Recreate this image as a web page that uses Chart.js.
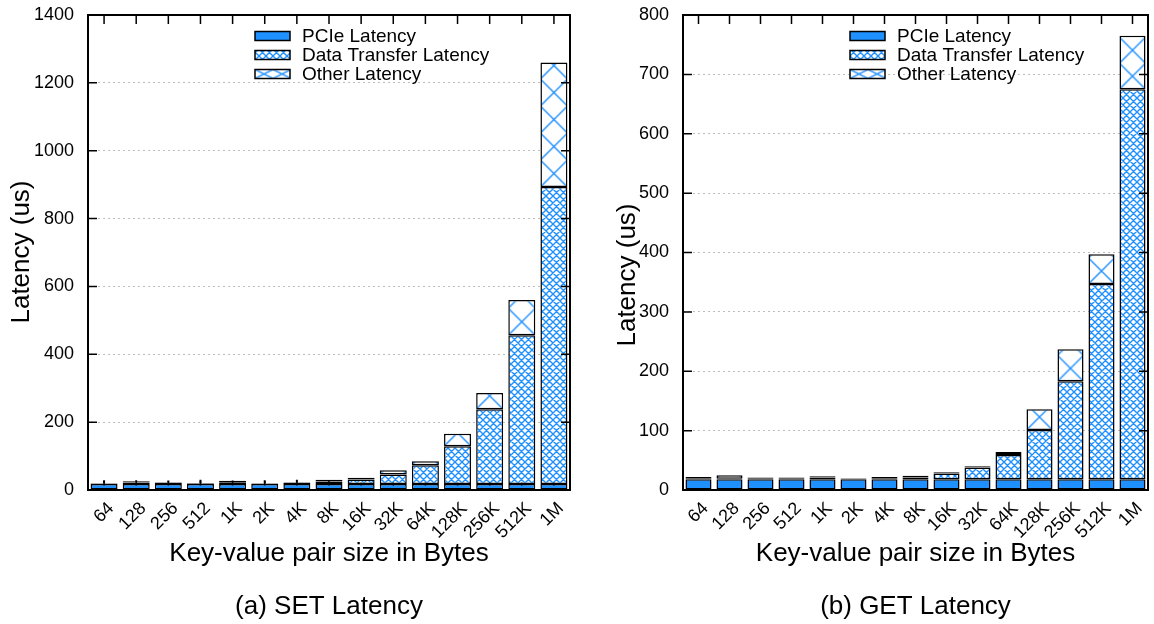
<!DOCTYPE html>
<html>
<head>
<meta charset="utf-8">
<script src="https://cdn.jsdelivr.net/npm/chart.js@4/dist/chart.umd.min.js"></script>
<style>
  html, body { margin: 0; padding: 0; background: #fff; }
  #wrap { position: relative; width: 1154px; height: 624px; overflow: hidden; }
  .pane { position: absolute; top: 0; width: 577px; height: 624px; }
  #paneSet { left: 0; }
  #paneGet { left: 577px; }
</style>
</head>
<body>
<div id="wrap">
  <div class="pane" id="paneSet"><canvas id="setChart" width="577" height="624"></canvas></div>
  <div class="pane" id="paneGet"><canvas id="getChart" width="577" height="624"></canvas></div>
</div>
<script>
// Key-value pair sizes (x categories)
const sizes = ['64', '128', '256', '512', '1K', '2K', '4K', '8K', '16K', '32K', '64K', '128K', '256K', '512K', '1M'];

// SET latency breakdown (us)
const setPcie  = [18, 18, 18, 18, 18, 18, 18, 18, 18, 18, 18, 18, 18, 18, 18];
const setData  = [1, 4, 4, 1, 5, 1, 4, 7, 13, 28, 55, 111, 220, 438, 875];
const setOther = [1, 4, 1, 2, 4, 1, 1, 5, 5, 12, 12, 37, 48, 104, 367];
const setErr   = [9, 3, 5, 9, 2, 9, 7, 0, 0, 0, 0, 0, 0, 0, 0];

// GET latency breakdown (us)
const getPcie  = [18, 18, 18, 18, 18, 18, 18, 18, 18, 18, 18, 18, 18, 18, 18];
const getData  = [2, 1, 2, 2, 3, 1, 2, 3, 10, 20, 41, 83, 165, 329, 657];
const getOther = [2, 6, 1, 1, 2, 1, 2, 3, 2, 2, 5, 35, 54, 50, 90];

// Axis ticks
const setTicks = [0, 200, 400, 600, 800, 1000, 1200, 1400];
const getTicks = [0, 100, 200, 300, 400, 500, 600, 700, 800];

const seriesNames = ['PCIe Latency', 'Data Transfer Latency', 'Other Latency'];
const FONT = '"Liberation Sans", Arial, Helvetica, sans-serif';
const BLUE = '#1E90FF';
const BAR_FRACTION = 0.84;

// Fine diagonal cross-hatch used for the data-transfer segments
function hatchPattern(ctx) {
  const s = 7, n = 2, T = s * n;
  const c = document.createElement('canvas');
  c.width = T; c.height = T;
  const g = c.getContext('2d');
  g.fillStyle = '#fff';
  g.fillRect(0, 0, T, T);
  g.strokeStyle = BLUE;
  g.lineWidth = 1.4;
  g.beginPath();
  for (let i = -n; i <= n; i++) {
    g.moveTo(i * s, 0); g.lineTo(i * s + T, T);
    g.moveTo(i * s, T); g.lineTo(i * s + T, 0);
  }
  g.stroke();
  return ctx.createPattern(c, 'repeat');
}

// Large "X" cells used for the other-latency segments
function crossPattern(ctx, w, h, ox, oy) {
  const W = Number.isFinite(w) ? Math.max(4, Math.round(w)) : 26;
  const H = Number.isFinite(h) ? Math.max(4, Math.round(h)) : 26;
  const c = document.createElement('canvas');
  c.width = W; c.height = H;
  const g = c.getContext('2d');
  g.fillStyle = '#fff';
  g.fillRect(0, 0, W, H);
  g.strokeStyle = BLUE;
  g.lineWidth = 1.4;
  g.beginPath();
  g.moveTo(0, 0); g.lineTo(W, H);
  g.moveTo(0, H); g.lineTo(W, 0);
  g.stroke();
  const p = ctx.createPattern(c, 'repeat');
  if (p && p.setTransform && Number.isFinite(ox) && Number.isFinite(oy)) {
    p.setTransform(new DOMMatrix([1, 0, 0, 1, ox, oy]));
  }
  return p;
}

function barWidth(chart) {
  const xs = chart.scales.x;
  return xs.width / sizes.length * BAR_FRACTION;
}

// Frame, inward ticks, legend, titles and caption
function decorPlugin(cfg) {
  return {
    id: 'decor',
    beforeDatasetsDraw(chart) {
      const { ctx, chartArea: a } = chart;
      const xs = chart.scales.x;
      ctx.save();
      ctx.strokeStyle = '#000';
      ctx.lineWidth = 1.5;
      ctx.beginPath();
      sizes.forEach((_, i) => {
        const x = xs.getPixelForValue(i);
        ctx.moveTo(x, a.bottom); ctx.lineTo(x, a.bottom - 9);
      });
      ctx.stroke();
      ctx.restore();
    },
    afterDatasetsDraw(chart) {
      const { ctx, chartArea: a } = chart;
      const xs = chart.scales.x, ys = chart.scales.y;
      ctx.save();
      ctx.strokeStyle = '#000';
      // error whiskers
      if (cfg.err) {
        ctx.lineWidth = 2;
        ctx.beginPath();
        cfg.err.forEach((e, i) => {
          if (!e) return;
          const top = cfg.pcie[i] + cfg.data[i] + cfg.other[i];
          const x = xs.getPixelForValue(i);
          ctx.moveTo(x, ys.getPixelForValue(top));
          ctx.lineTo(x, ys.getPixelForValue(top + e));
        });
        ctx.stroke();
      }
      // inward tick marks
      ctx.lineWidth = 1.5;
      ctx.beginPath();
      cfg.ticks.forEach(v => {
        const y = ys.getPixelForValue(v);
        ctx.moveTo(a.left, y); ctx.lineTo(a.left + 9, y);
        ctx.moveTo(a.right, y); ctx.lineTo(a.right - 9, y);
      });
      sizes.forEach((_, i) => {
        const x = xs.getPixelForValue(i);
        ctx.moveTo(x, a.top); ctx.lineTo(x, a.top + 9);
      });
      ctx.stroke();
      // frame
      ctx.lineWidth = 2;
      ctx.strokeRect(a.left, a.top, a.right - a.left, a.bottom - a.top);
      ctx.restore();
    },
    afterDraw(chart) {
      const { ctx, chartArea: a } = chart;
      const cx = (a.left + a.right) / 2;
      ctx.save();
      // legend
      const swW = 35, swH = 9;
      const fills = [BLUE, hatchPattern(ctx), null];
      ctx.font = '19px ' + FONT;
      ctx.textBaseline = 'middle';
      ctx.textAlign = 'left';
      seriesNames.forEach((name, i) => {
        const y = cfg.legendY + i * 19;
        const x0 = cfg.legendX;
        ctx.fillStyle = i === 2 ? crossPattern(ctx, swW / 2, swH, x0, y - swH / 2) : fills[i];
        ctx.fillRect(x0, y - swH / 2, swW, swH);
        ctx.strokeStyle = '#000';
        ctx.lineWidth = 1.5;
        ctx.strokeRect(x0, y - swH / 2, swW, swH);
        ctx.fillStyle = '#000';
        ctx.fillText(name, x0 + 47, y + 1);
      });
      // axis titles
      ctx.fillStyle = '#000';
      ctx.font = '26px ' + FONT;
      ctx.textAlign = 'center';
      ctx.textBaseline = 'middle';
      ctx.fillText('Key-value pair size in Bytes', cx, 554);
      ctx.fillText(cfg.caption, cx, 607);
      ctx.save();
      ctx.translate(cfg.yTitleX, cfg.yTitleY);
      ctx.rotate(-Math.PI / 2);
      ctx.fillText('Latency (us)', 0, 0);
      ctx.restore();
      ctx.restore();
    }
  };
}

function buildChart(canvasId, cfg) {
  const base = cfg.pcie.map((p, i) => p + cfg.data[i]);
  const hatchCache = {};
  return new Chart(document.getElementById(canvasId), {
    type: 'bar',
    data: {
      labels: sizes,
      datasets: [
        { label: seriesNames[0], data: cfg.pcie, backgroundColor: BLUE },
        {
          label: seriesNames[1], data: cfg.data,
          backgroundColor: (c) => hatchCache.p || (hatchCache.p = hatchPattern(c.chart.ctx))
        },
        {
          label: seriesNames[2], data: cfg.other,
          backgroundColor: (c) => {
            const chart = c.chart;
            if (c.type !== 'data' || !chart.scales.x || !chart.scales.y) return '#fff';
            const w = barWidth(chart);
            if (!Number.isFinite(w) || w <= 0) return '#fff';
            const left = chart.scales.x.getPixelForValue(c.dataIndex) - w / 2;
            const y0 = chart.scales.y.getPixelForValue(base[c.dataIndex]);
            return crossPattern(chart.ctx, w, w, left, y0);
          }
        }
      ].map(d => Object.assign(d, {
        borderColor: '#000', borderWidth: 1.5, borderSkipped: false,
        categoryPercentage: 1.0, barPercentage: BAR_FRACTION
      }))
    },
    options: {
      responsive: false,
      animation: false,
      devicePixelRatio: 1,
      layout: { padding: { left: 0, right: cfg.padRight, top: 15, bottom: 0 } },
      plugins: { legend: { display: false }, tooltip: { enabled: false } },
      scales: {
        x: {
          stacked: true,
          grid: { display: false },
          border: { display: false },
          ticks: {
            color: '#000', font: { family: FONT, size: 18 },
            minRotation: 45, maxRotation: 45, autoSkip: false,
            padding: 0, labelOffset: 7
          },
          afterFit: (s) => { s.height = 134; s.paddingLeft = 0; s.paddingRight = 0; }
        },
        y: {
          stacked: true,
          min: 0, max: cfg.ticks[cfg.ticks.length - 1],
          afterBuildTicks: (s) => { s.ticks = cfg.ticks.map(v => ({ value: v })); },
          grid: {
            drawTicks: false, lineWidth: 1,
            color: (c) => (c.tick && (c.tick.value === 0 || c.tick.value === cfg.ticks[cfg.ticks.length - 1])) ? 'rgba(0,0,0,0)' : '#bdbdbd'
          },
          border: { display: false, dash: [2, 3] },
          ticks: {
            color: '#000', font: { family: FONT, size: 18 }, padding: 14,
            callback: (v) => String(v)
          },
          afterFit: (s) => { s.width = cfg.axisLeft; s.paddingTop = 0; s.paddingBottom = 0; }
        }
      }
    },
    plugins: [decorPlugin(cfg)]
  });
}

buildChart('setChart', {
  pcie: setPcie, data: setData, other: setOther, err: setErr, ticks: setTicks,
  axisLeft: 88, padRight: 7, legendX: 255, legendY: 36,
  yTitleX: 22, yTitleY: 252, caption: '(a) SET Latency'
});

buildChart('getChart', {
  pcie: getPcie, data: getData, other: getOther, err: null, ticks: getTicks,
  axisLeft: 106, padRight: 6, legendX: 273, legendY: 36,
  yTitleX: 51, yTitleY: 275, caption: '(b) GET Latency'
});
</script>
</body>
</html>
